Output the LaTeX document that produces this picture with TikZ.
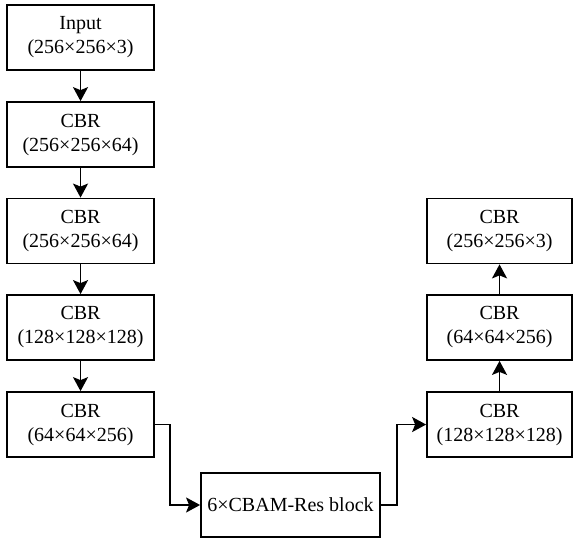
\documentclass[tikz,border=0pt]{standalone}
\usepackage{fontspec}
\setmainfont{Liberation Serif}
\usetikzlibrary{arrows.meta}

\begin{document}
\begin{tikzpicture}[
  line width=0.9pt,  layer/.style={draw,align=center,minimum width=2.583cm,minimum height=1.142cm,inner sep=1pt,font=\fontsize{10}{12}\selectfont},  flow/.style={-{Stealth[length=7pt,width=7.5pt,inset=1.5pt]}}
]
  \useasboundingbox (0,0) rectangle (10.069,-9.525);
  % encoder
  \node[layer] (in) at (1.415,-0.659) {Input\\(256×256×3)};
  \node[layer] (e1) at (1.415,-2.364) {CBR\\(256×256×64)};
  \node[layer] (e2) at (1.415,-4.059) {CBR\\(256×256×64)};
  \node[layer] (e3) at (1.415,-5.755) {CBR\\(128×128×128)};
  \node[layer] (e4) at (1.415,-7.460) {CBR\\(64×64×256)};
  % middle
  \node[layer,minimum width=3.146cm,minimum height=1.125cm] (res) at (5.105,-8.874) {6×CBAM-Res block};
  % decoder
  \node[layer,minimum width=2.548cm] (d1) at (8.778,-7.460) {CBR\\(128×128×128)};
  \node[layer,minimum width=2.548cm] (d2) at (8.778,-5.755) {CBR\\(64×64×256)};
  \node[layer,minimum width=2.548cm] (d3) at (8.778,-4.059) {CBR\\(256×256×3)};
  \draw[flow] (in) -- (e1);
  \draw[flow] (e1) -- (e2);
  \draw[flow] (e2) -- (e3);
  \draw[flow] (e3) -- (e4);
  \draw[flow] (e4.east) -- ++(0.264,0) |- (res.west);
  \draw[flow] (res.east) -- ++(0.281,0) |- (d1.west);
  \draw[flow] (d1) -- (d2);
  \draw[flow] (d2) -- (d3);
\end{tikzpicture}
\end{document}
